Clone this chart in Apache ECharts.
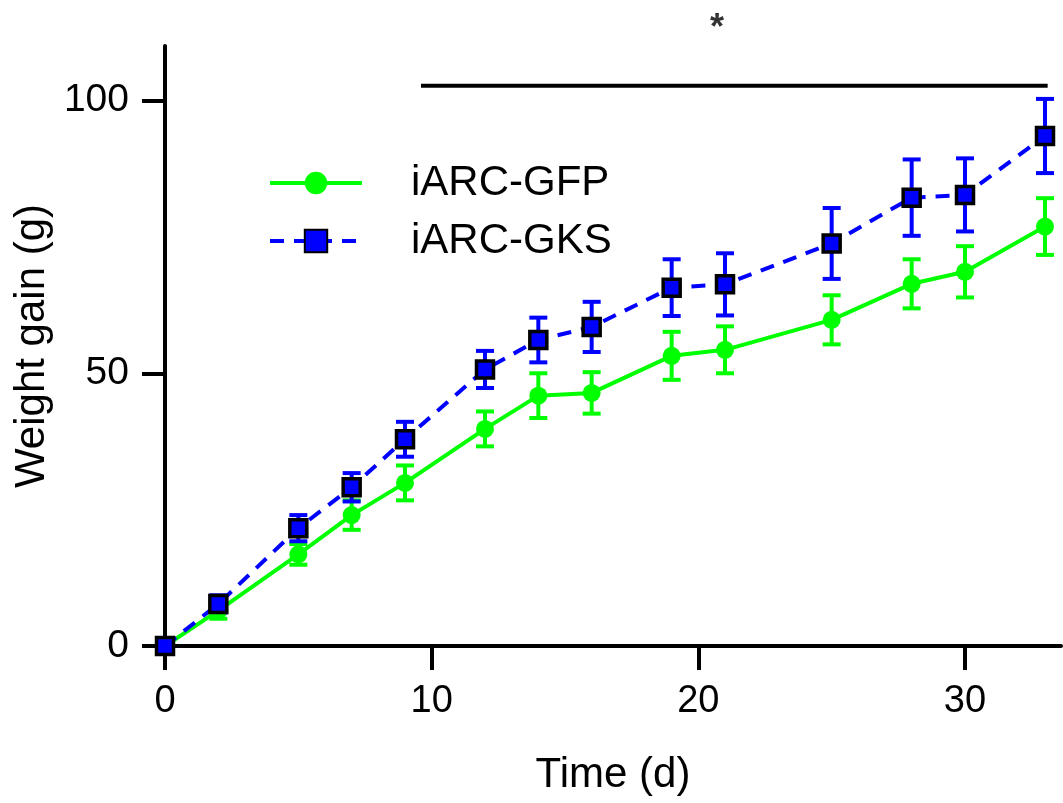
<!DOCTYPE html>
<html>
<head>
<meta charset="utf-8">
<script src="https://cdn.jsdelivr.net/npm/echarts@6/dist/echarts.min.js"></script>
<style>html,body{margin:0;padding:0;background:#fff}#c{width:1063px;height:803px}</style>
</head>
<body>
<div id="c"></div>
<script>
const days = [0, 2, 5, 7, 9, 12, 14, 16, 19, 21, 25, 28, 30, 33];
const gfpMean = [0, 6.5, 16.8, 24.0, 29.9, 39.8, 45.9, 46.4, 53.2, 54.3, 59.8, 66.4, 68.6, 76.9];
const gfpErr  = [0, 1.5, 1.9, 2.7, 3.2, 3.2, 4.1, 3.8, 4.4, 4.3, 4.5, 4.5, 4.7, 5.2];
const gksMean = [0, 7.7, 21.6, 29.1, 37.9, 50.7, 56.1, 58.5, 65.7, 66.3, 73.8, 82.2, 82.7, 93.5];
const gksErr  = [0, 1.6, 2.4, 2.6, 3.2, 3.4, 4.1, 4.6, 5.2, 5.7, 6.5, 7.0, 6.7, 6.8];
const xTicks = [0, 10, 20, 30];
const yTicks = [0, 50, 100];
const sigLine = [[9.6, 102.7], [33.1, 102.7]];
const sigStar = [[20.7, 114.6]];
const names = ['iARC-GFP', 'iARC-GKS'];

const FONT = 'Liberation Sans, Arial, sans-serif';
const GREEN = '#00ff00', BLUE = '#0000ff';

function errData(mean, err) {
  return days.map((d, i) => [d, mean[i] - err[i], mean[i] + err[i]]);
}
function errSeries(mean, err, color) {
  return {
    type: 'custom',
    data: errData(mean, err),
    silent: true,
    z: 2,
    renderItem: function (params, api) {
      const x = api.value(0);
      const lo = api.coord([x, api.value(1)]);
      const hi = api.coord([x, api.value(2)]);
      const hw = 9;
      const style = { stroke: color, lineWidth: 4 };
      return {
        type: 'group',
        children: [
          { type: 'line', shape: { x1: lo[0], y1: lo[1], x2: hi[0], y2: hi[1] }, style },
          { type: 'line', shape: { x1: lo[0] - hw, y1: lo[1], x2: lo[0] + hw, y2: lo[1] }, style },
          { type: 'line', shape: { x1: hi[0] - hw, y1: hi[1], x2: hi[0] + hw, y2: hi[1] }, style }
        ]
      };
    }
  };
}

const chart = echarts.init(document.getElementById('c'), null, { renderer: 'canvas' });
chart.setOption({
  animation: false,
  backgroundColor: '#fff',
  grid: { left: 165, right: 2, top: 46, bottom: 157, containLabel: false },
  legend: {
    orient: 'vertical',
    left: 263,
    top: 157,
    padding: 5,
    itemWidth: 92,
    itemHeight: 28,
    itemGap: 16,
    data: names,
    lineStyle: { width: 4 },
    textStyle: { fontFamily: FONT, fontSize: 42, color: '#000', padding: [0, 0, 0, 44] }
  },
  xAxis: {
    type: 'value',
    min: 0, max: 33.6, interval: 10,
    name: 'Time (d)',
    nameLocation: 'middle',
    nameGap: 108,
    nameTextStyle: { fontFamily: FONT, fontSize: 42, color: '#000' },
    axisLine: { onZero: false, lineStyle: { color: '#000', width: 4 } },
    axisTick: { show: true, length: 24, lineStyle: { color: '#000', width: 4 }, customValues: xTicks },
    axisLabel: { fontFamily: FONT, fontSize: 38, color: '#000', margin: 37, customValues: xTicks },
    splitLine: { show: false }
  },
  yAxis: {
    type: 'value',
    min: 0, max: 110, interval: 50,
    name: 'Weight gain (g)',
    nameLocation: 'middle',
    nameGap: 110,
    nameTextStyle: { fontFamily: FONT, fontSize: 42, color: '#000' },
    axisLine: { lineStyle: { color: '#000', width: 4 } },
    axisTick: { show: true, length: 23, lineStyle: { color: '#000', width: 4 }, customValues: yTicks },
    axisLabel: { fontFamily: FONT, fontSize: 39, color: '#000', margin: 36, customValues: yTicks },
    splitLine: { show: false }
  },
  series: [
    errSeries(gfpMean, gfpErr, GREEN),
    errSeries(gksMean, gksErr, BLUE),
    {
      name: names[0],
      type: 'line',
      z: 3,
      data: days.map((d, i) => [d, gfpMean[i]]),
      symbol: 'circle',
      symbolSize: 18,
      itemStyle: { color: GREEN },
      lineStyle: { color: GREEN, width: 4 }
    },
    {
      name: names[1],
      type: 'line',
      z: 4,
      data: days.map((d, i) => [d, gksMean[i]]),
      symbol: 'rect',
      symbolSize: 17,
      itemStyle: { color: BLUE, borderColor: '#000', borderWidth: 3.5 },
      lineStyle: { color: BLUE, width: 4, type: [14, 10] }
    },
    {
      type: 'line',
      data: sigLine,
      symbol: 'none',
      silent: true,
      lineStyle: { color: '#000', width: 4 },
      z: 1
    },
    {
      type: 'scatter',
      data: sigStar,
      symbolSize: 0,
      clip: false,
      silent: true,
      label: { show: true, position: 'inside', formatter: '*', fontFamily: FONT, fontSize: 36, fontWeight: 'bold', color: '#000', offset: [0, 8] }
    }
  ]
});
</script>
</body>
</html>
